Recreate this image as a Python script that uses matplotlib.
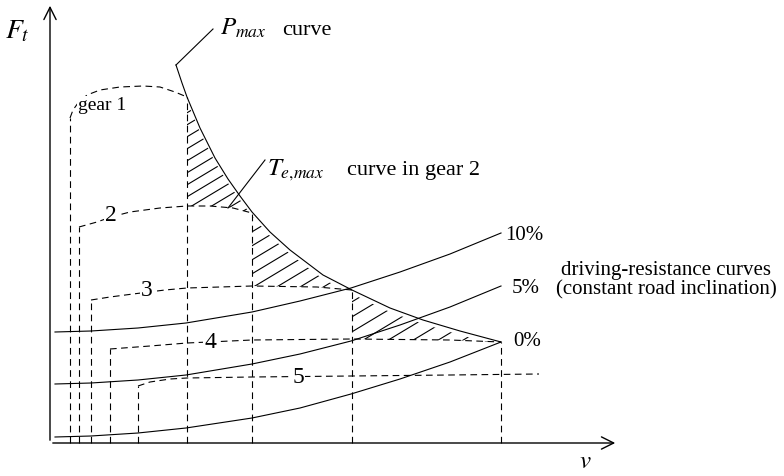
import numpy as np
import matplotlib.pyplot as plt
from matplotlib.path import Path
from matplotlib.patches import PathPatch

plt.rcParams['font.family'] = ['Liberation Serif', 'DejaVu Serif']
plt.rcParams['mathtext.fontset'] = 'stix'

# courbe P_max (v, F)
v_pmax = [126, 132, 137, 150, 165, 178, 190, 202, 220, 240, 273, 302, 340, 373, 410, 451]
F_pmax = [378, 360, 346, 315, 285, 264, 247, 231, 211, 193, 168, 153, 135, 123, 112, 101]

# courbes de résistance (10 %, 5 %, 0 %)
v_res = [5, 41, 88, 136, 202, 250, 301, 350, 400, 451]
F_res10 = [111, 112, 115, 120, 131, 142, 155, 171, 189, 210]
F_res5 = [59, 60, 63, 68, 79, 89, 102, 118, 136, 157]
F_res0 = [6, 7, 10, 15, 25, 35, 49, 64, 81, 101]

# courbes T_e,max pour chaque rapport
v_g1 = [20, 23, 28, 37, 50, 70, 93, 110, 125, 137]
F_g1 = [325, 333, 340, 348, 353, 356, 357, 356, 351, 346]
v_g2 = [29, 47, 61, 80, 110, 137, 160, 183, 202]
F_g2 = [216, 221, 226, 231, 235, 237, 237, 235, 230]
v_g3 = [41, 60, 83, 115, 137, 170, 202, 267, 302]
F_g3 = [143, 146, 149, 153, 155, 156, 157, 156, 153]
v_g4 = [60, 100, 137, 202, 302, 400, 451]
F_g4 = [94, 97, 100, 103, 104, 103, 101]
v_g5 = [88, 100, 120, 137, 202, 302, 400, 489]
F_g5 = [57, 61, 64, 65, 66, 67, 68, 69]

# lignes verticales pointillées (v, hauteur)
v_vert = [20, 29, 41, 60, 88, 137, 202, 302, 451]
F_vert = [325, 216, 143, 94, 57, 346, 230, 153, 101]

fig = plt.figure(figsize=(7.84, 4.76), dpi=100)
ax = fig.add_axes([0, 0, 1, 1])
ax.set_xlim(-50, 734)
ax.set_ylim(-33, 443)
ax.axis('off')

lw = 0.8
dash = (0, (6, 4))

# axes avec flèches
ax.annotate('', xy=(0, 440), xytext=(0, 0),
            arrowprops=dict(arrowstyle='->', lw=1.0, color='black', mutation_scale=22))
ax.annotate('', xy=(568, 0), xytext=(0, 0),
            arrowprops=dict(arrowstyle='->', lw=1.0, color='black', mutation_scale=22))

# verticales
for v, F in zip(v_vert, F_vert):
    ax.plot([v, v], [0, F], color='black', lw=lw, ls=dash)

# rapports
for vv, FF in [(v_g1, F_g1), (v_g2, F_g2), (v_g3, F_g3), (v_g4, F_g4), (v_g5, F_g5)]:
    ax.plot(vv, FF, color='black', lw=lw, ls=dash)

# résistances
for FF in [F_res10, F_res5, F_res0]:
    ax.plot(v_res, FF, color='black', lw=lw)

# P_max
ax.plot(v_pmax, F_pmax, color='black', lw=lw)

# hachures
regions = [(137, 202, v_g2, F_g2, 12), (202, 302, v_g3, F_g3, 14), (302, 451, v_g4, F_g4, 15)]
for a, b, vg, Fg, step in regions:
    vs = np.linspace(a, b, 60)
    top = np.interp(vs, v_pmax, F_pmax) - 4
    bot = np.interp(vs, vg, Fg)
    verts = list(zip(vs, top)) + list(zip(vs[::-1], bot[::-1])) + [(vs[0], top[0])]
    patch = PathPatch(Path(verts), fc='none', ec='none', transform=ax.transData)
    ax.add_patch(patch)
    for c in np.arange(-400, 400, step):
        ln, = ax.plot([a, b], [c + 0.6 * a, c + 0.6 * b], color='black', lw=lw)
        ln.set_clip_path(patch)

# textes
ax.text(-33, 405, '$F_t$', fontsize=20, ha='center', va='baseline')
ax.text(535, -25, '$v$', fontsize=18, ha='center', va='baseline')
ax.plot([126, 163], [378, 414], color='black', lw=lw)
ax.text(170, 408, '$P_{max}$', fontsize=18, ha='left', va='baseline')
ax.text(232, 408, 'curve', fontsize=16, ha='left', va='baseline')
ax.plot([178, 215], [235, 283], color='black', lw=lw)
ax.text(217, 268, '$T_{e{,}max}$', fontsize=18, ha='left', va='baseline')
ax.text(297, 268, 'curve in gear 2', fontsize=16, ha='left', va='baseline')

box = dict(fc='white', ec='none', pad=0.5)
ax.text(28, 333, 'gear 1', fontsize=14, ha='left', va='baseline', bbox=box)
ax.text(61, 222, '2', fontsize=17, ha='center', va='baseline', bbox=box)
ax.text(97, 147, '3', fontsize=17, ha='center', va='baseline', bbox=box)
ax.text(160, 95, '4', fontsize=17, ha='center', va='baseline', bbox=box)
ax.text(248, 60, '5', fontsize=17, ha='center', va='baseline', bbox=box)

ax.text(455, 203, '10%', fontsize=15, ha='left', va='baseline')
ax.text(462, 150, '5%', fontsize=15, ha='left', va='baseline')
ax.text(463, 97, '0%', fontsize=15, ha='left', va='baseline')
ax.text(616, 168, 'driving-resistance curves', fontsize=15, ha='center', va='baseline')
ax.text(616, 149, '(constant road inclination)', fontsize=15, ha='center', va='baseline')

fig.savefig('out.png', dpi=100)
